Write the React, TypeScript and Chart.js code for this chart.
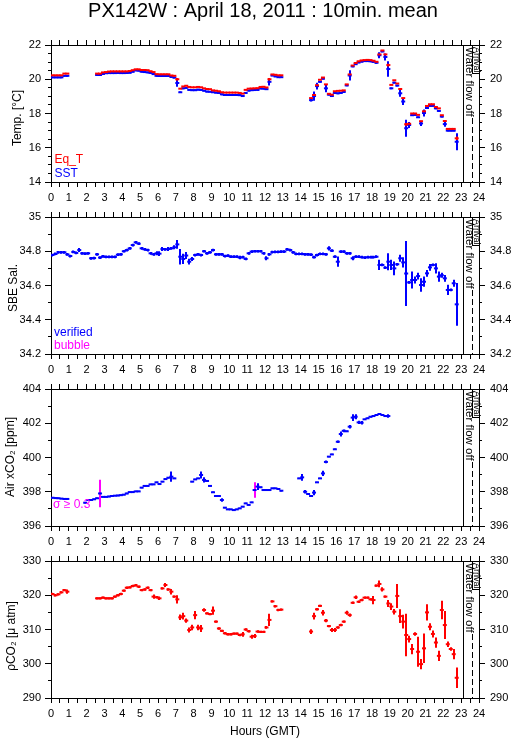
import React, { useEffect, useRef } from 'react';
import { Chart, registerables } from 'chart.js';

Chart.register(...registerables);

const FONT = '"Liberation Sans", Arial, Helvetica, sans-serif';
Chart.defaults.font.family = FONT;

// ---------------- DATA (10-minute means, one row = one hour, 6 values) ----------------
const X_TICK_LABELS = ['0','1','2','3','4','5','6','7','8','9','10','11','12','13','14','15','16','17','18','19','20','21','22','23','24'];
const TEMP_LABELS = ['14','16','18','20','22'];
const SAL_LABELS = ['34.2','34.4','34.6','34.8','35'];
const XCO2_LABELS = ['396','398','400','402','404'];
const PCO2_LABELS = ['290','300','310','320','330'];

const SST = [
  20.11,20.11,20.11,20.11,20.2,20.2,
  null,null,null,null,null,null,
  null,null,null,20.25,20.25,20.31,
  20.35,20.36,20.36,20.36,20.37,20.36,
  20.36,20.37,20.38,20.44,20.52,20.5,
  20.44,20.42,20.4,20.37,20.3,20.2,
  20.19,20.19,20.19,20.19,20.14,20.1,
  19.78,19.24,19.47,19.5,19.38,19.36,
  19.36,19.39,19.38,19.33,19.28,19.27,
  19.24,19.22,19.2,19.12,19.08,19.08,
  19.08,19.08,19.08,19.07,19.02,19.2,
  19.34,19.36,19.37,19.38,19.46,19.45,
  19.42,19.85,20.22,20.17,20.12,20.12,
  null,null,null,null,null,null,
  null,null,null,18.78,19.02,19.6,
  19.85,20.03,19.47,19.1,19.02,19.2,
  19.18,19.2,19.26,19.64,20.22,20.75,
  20.88,20.98,21.03,21.06,21.06,21.05,
  21.02,20.96,21.4,21.62,21.3,20.6,
  19.47,19.8,19.63,19.18,18.7,17.14,
  17.33,17.9,17.92,17.78,17.42,18.03,
  18.32,18.45,18.45,18.3,18.15,17.82,
  17.38,17.0,17.0,17.0,16.35,null,
];
const EQ_T = [
  20.23,20.23,20.23,20.23,20.33,20.33,
  null,null,null,null,null,null,
  null,null,null,20.33,20.33,20.4,
  20.42,20.45,20.46,20.46,20.46,20.46,
  20.46,20.46,20.48,20.53,20.58,20.58,
  20.54,20.54,20.53,20.47,20.42,20.3,
  20.29,20.29,20.29,20.29,20.22,20.2,
  20.0,19.45,19.58,19.62,19.55,19.53,
  19.53,19.55,19.53,19.47,19.43,19.42,
  19.35,19.33,19.3,19.24,19.22,19.22,
  19.22,19.22,19.22,19.2,19.16,19.38,
  19.45,19.46,19.47,19.48,19.55,19.56,
  19.52,20.0,20.28,20.26,20.23,20.23,
  null,null,null,null,null,null,
  null,null,null,18.9,19.08,19.65,
  19.97,20.1,19.7,19.15,19.1,19.3,
  19.32,19.33,19.35,19.7,20.28,20.8,
  20.95,21.05,21.1,21.12,21.13,21.12,
  21.08,21.02,21.45,21.68,21.45,20.83,
  19.67,19.94,19.75,19.43,18.9,17.37,
  17.4,18.0,18.0,17.92,17.55,18.13,
  18.44,18.54,18.54,18.38,18.3,17.9,
  17.56,17.1,17.1,17.1,16.55,null,
];
const SST_ERR_DEFAULT = 0.05;
const SST_ERR = [[42,0.22],[73,0.22],[87,0.08],[88,0.27],[89,0.2],[92,0.23],[100,0.3],[110,0.18],[112,0.2],[113,0.45],[117,0.2],[118,0.2],[119,0.5],[120,0.18],[124,0.15],[125,0.2],[132,0.15],[136,0.5]];
const EQ_T_ERR_DEFAULT = 0;
const EQ_T_ERR = [[42,0.08],[73,0.08],[113,0.08],[119,0.08],[136,0.1]];

const SAL = [
  34.778,34.784,34.794,34.794,34.794,34.782,
  34.772,34.796,34.79,34.807,34.788,34.786,
  34.788,34.759,34.76,34.782,34.763,34.77,
  34.767,34.767,34.767,34.767,34.78,34.782,
  34.8,34.807,34.817,34.836,34.852,34.844,
  34.817,34.811,34.807,34.788,34.782,34.788,
  34.786,34.813,34.811,34.813,34.817,34.823,
  34.84,34.768,34.755,34.775,34.739,34.755,
  34.778,34.782,34.778,34.8,34.788,34.794,
  34.807,34.782,34.782,34.782,34.772,34.774,
  34.768,34.768,34.768,34.763,34.765,34.755,
  34.788,34.798,34.8,34.8,34.8,34.788,
  34.759,34.782,34.795,34.796,34.796,34.798,
  34.798,34.811,34.807,34.794,34.784,34.784,
  34.784,34.782,34.782,34.78,34.765,34.778,
  34.784,34.784,34.782,34.817,34.803,34.768,
  34.739,34.798,34.798,34.788,34.788,34.759,
  34.768,34.768,34.765,34.763,34.765,34.765,
  34.765,34.768,34.72,34.72,34.704,34.739,
  34.72,34.70,34.724,34.759,34.735,34.67,
  34.618,34.632,34.632,34.655,34.603,34.622,
  34.671,34.706,34.72,34.70,34.652,34.66,
  34.642,34.574,34.574,34.613,34.49,null,
];
const SAL_ERR_DEFAULT = 0.008;
const SAL_ERR = [[9,0.012],[35,0.012],[36,0.014],[37,0.012],[39,0.012],[41,0.012],[42,0.025],[43,0.045],[44,0.03],[45,0.02],[46,0.017],[47,0.012],[63,0.01],[72,0.012],[93,0.012],[96,0.03],[101,0.012],[110,0.03],[113,0.05],[114,0.03],[115,0.04],[117,0.02],[118,0.03],[119,0.19],[121,0.05],[122,0.02],[123,0.02],[124,0.04],[125,0.03],[126,0.02],[127,0.02],[129,0.03],[130,0.03],[131,0.015],[132,0.02],[133,0.03],[135,0.02],[136,0.125]];

const XCO2 = [
  397.65,397.63,397.62,397.6,397.58,397.58,
  null,null,null,null,null,397.36,
  397.52,397.52,397.56,397.62,397.9,397.7,
  397.7,397.72,397.75,397.77,397.78,397.8,
  397.83,397.9,397.98,397.98,398.02,398.02,
  398.24,398.34,398.34,398.43,398.43,398.55,
  398.45,398.59,398.74,398.82,398.88,398.78,
  null,null,null,null,null,398.59,
  398.72,398.78,398.98,398.69,398.63,398.34,
  397.97,397.75,397.75,397.52,397.07,396.97,
  396.97,396.93,396.97,397.03,397.13,397.32,
  397.23,397.38,398.1,398.3,398.26,398.1,
  398.1,398.1,398.2,398.2,398.16,398.06,
  null,null,null,null,null,398.78,
  398.84,398.0,397.87,397.75,397.95,398.55,
  398.78,399.07,399.74,400.05,400.18,400.48,
  400.92,401.37,401.56,401.53,401.8,402.33,
  402.38,402.05,402.03,402.23,402.29,402.38,
  402.42,402.48,402.54,402.48,402.42,402.42,
];
const XCO2_ERR_DEFAULT = 0.04;
const XCO2_ERR = [[40,0.3],[50,0.2],[51,0.15],[57,0.1],[69,0.2],[84,0.2],[85,0.1],[88,0.15],[91,0.15],[92,0.08],[96,0.08],[97,0.15],[98,0.08],[100,0.1],[101,0.2],[102,0.15],[103,0.1],[104,0.1],[113,0.1]];
const BUBBLE_IDX = [16, 68];
const BUBBLE_VAL = [397.9, 398.1];
const BUBBLE_ERR = [0.8, 0.45];

const PCO2 = [
  320.37,319.98,320.27,320.85,321.5,321.05,
  null,null,null,null,null,null,
  null,null,null,319.1,319.1,319.3,
  319.1,319.1,319.1,319.6,320.0,320.37,
  321.34,322.2,322.3,322.7,322.9,322.5,
  321.5,321.7,322.2,321.5,319.6,319.4,
  319.1,322.0,323.0,321.7,321.05,319.6,
  318.8,313.55,313.9,312.6,309.85,310.6,
  314.2,310.6,310.3,315.7,314.7,314.5,
  315.5,312.3,310.3,309.6,308.9,308.6,
  308.6,308.8,308.8,308.4,308.6,310.0,
  309.5,307.9,308.1,309.4,309.3,309.3,
  310.6,312.8,318.2,316.8,315.7,315.8,
  null,null,null,null,null,null,
  null,null,null,309.4,313.9,315.9,
  316.9,314.9,312.6,311.0,309.85,309.85,
  310.6,311.3,312.3,314.9,314.2,317.8,
  319.4,318.1,318.6,319.3,319.3,318.8,
  318.6,322.8,323.3,321.7,319.6,317.6,
  316.7,315.2,319.8,313.9,312.3,308.4,
  307.2,304.3,308.7,303.5,299.9,304.5,
  315.0,310.8,308.7,306.2,302.3,315.7,
  311.3,305.7,304.3,302.8,295.9,null,
];
const PCO2_ERR_DEFAULT = 0.35;
const PCO2_ERR = [[5,0.6],[34,0.6],[36,0.5],[38,0.6],[40,0.8],[42,1.2],[43,0.8],[44,1.0],[45,0.6],[46,0.7],[47,0.8],[48,1.2],[49,0.8],[50,1.0],[51,0.5],[54,1.2],[64,0.7],[67,0.6],[68,0.6],[72,0.4],[73,1.8],[87,0.7],[88,1.0],[91,0.8],[92,0.5],[94,0.6],[95,0.6],[99,0.6],[100,0.5],[102,0.5],[108,1.2],[110,1.0],[111,0.6],[113,1.0],[114,1.0],[115,0.8],[116,3.5],[117,2.0],[118,2.0],[119,6.2],[120,1.0],[121,1.5],[122,0.5],[123,4.4],[124,1.5],[125,4.3],[126,2.4],[127,1.0],[128,1.0],[129,1.5],[130,1.5],[131,2.7],[132,4.1],[133,0.8],[134,0.5],[135,1.5],[136,3.0]];

const FLOW_OFF_START = 23.08;
const FLOW_OFF_END = 23.6;

// ---------------- LAYOUT ----------------
const PAGE_W = 515;
const PAGE_H = 739;
const LEFT_W = 51;
const RIGHT_W = 36;
const PLOT_H = 137;
const TICK_FONT = 11;
const RED = '#ff0000';
const BLUE = '#0000ff';
const MAGENTA = '#ff00ff';

type Txt = { text: string; x: number; y: number; color?: string; size?: number; rot?: number; align?: CanvasTextAlign; baseline?: CanvasTextBaseline };

function toPoints(values: (number | null)[], errs: number[][], def: number) {
  const m = new Map(errs.map((p) => [p[0], p[1]] as [number, number]));
  const pts: any[] = [];
  values.forEach((v, i) => {
    if (v == null) return;
    pts.push({ x: (i + 0.5) / 6, y: v, e: m.has(i) ? m.get(i) : def });
  });
  return pts;
}

function sparsePoints(idx: number[], vals: number[], errs: number[]) {
  return idx.map((i, k) => ({ x: (i + 0.5) / 6, y: vals[k], e: errs[k] }));
}

function ds(data: any[], color: string, radius = 2) {
  return {
    data,
    borderColor: color,
    backgroundColor: color,
    pointBorderColor: color,
    pointBackgroundColor: color,
    pointStyle: 'line',
    pointRadius: radius,
    pointHoverRadius: radius,
    pointBorderWidth: 2,
    showLine: false,
  };
}

const errorBars = {
  id: 'errorBars',
  afterDatasetDraw(chart: any, args: any) {
    const d = chart.data.datasets[args.index];
    const xs = chart.scales.x;
    const ys = chart.scales.y;
    const ctx = chart.ctx;
    ctx.save();
    ctx.strokeStyle = d.pointBorderColor;
    ctx.lineWidth = 2;
    d.data.forEach((p: any) => {
      if (!p.e) return;
      const x = Math.round(xs.getPixelForValue(p.x));
      const y1 = ys.getPixelForValue(p.y - p.e);
      const y2 = ys.getPixelForValue(p.y + p.e);
      ctx.beginPath();
      ctx.moveTo(x, y1);
      ctx.lineTo(x, y2);
      ctx.stroke();
    });
    ctx.restore();
  },
};

function makeDecor(texts: Txt[]) {
  return {
    id: 'decor',
    afterDraw(chart: any) {
      const ctx = chart.ctx;
      const xs = chart.scales.x;
      const { top, bottom } = chart.chartArea;
      const xa = Math.round(xs.getPixelForValue(FLOW_OFF_START)) + 0.5;
      const xb = Math.round(xs.getPixelForValue(FLOW_OFF_END)) + 0.5;
      const xr = Math.round(xs.getPixelForValue(24)) + 0.5;
      ctx.save();
      ctx.strokeStyle = '#000';
      ctx.lineWidth = 1;
      ctx.beginPath();
      ctx.moveTo(xa, top);
      ctx.lineTo(xa, bottom);
      ctx.stroke();
      ctx.setLineDash([6, 3]);
      ctx.beginPath();
      ctx.moveTo(xb, top + 73);
      ctx.lineTo(xb, bottom);
      ctx.stroke();
      ctx.setLineDash([]);
      // arrival box
      ctx.fillStyle = '#fff';
      ctx.fillRect(xb, top + 0.5, xr - xb, 28);
      ctx.strokeRect(xb, top + 0.5, xr - xb, 28);
      ctx.fillStyle = '#000';
      ctx.save();
      ctx.translate(xb + 1, top + 2);
      ctx.rotate(Math.PI / 2);
      ctx.font = `9px ${FONT}`;
      ctx.textBaseline = 'alphabetic';
      ctx.textAlign = 'left';
      ctx.fillText('Arrival', 0, 0);
      ctx.restore();
      // water flow off
      ctx.save();
      ctx.translate(xa + 2, top + 2);
      ctx.rotate(Math.PI / 2);
      ctx.font = `11.5px ${FONT}`;
      ctx.textBaseline = 'alphabetic';
      ctx.textAlign = 'left';
      ctx.fillText('Water flow off', 0, 0);
      ctx.restore();

      texts.forEach((t) => {
        ctx.save();
        ctx.fillStyle = t.color || '#000';
        ctx.font = `${t.size || 12}px ${FONT}`;
        ctx.textAlign = t.align || 'left';
        ctx.textBaseline = t.baseline || 'alphabetic';
        ctx.translate(t.x, t.y);
        if (t.rot) ctx.rotate(t.rot);
        ctx.fillText(t.text, 0, 0);
        ctx.restore();
      });
      ctx.restore();
    },
  };
}

type Panel = {
  key: string;
  canvasTop: number;
  topH: number;
  canvasH: number;
  labels: string[];
  minor: number;
  datasets: () => any[];
  texts: Txt[];
};

function yAxis(p: Panel, position: 'left' | 'right', major: boolean) {
  const min = Number(p.labels[0]);
  const max = Number(p.labels[p.labels.length - 1]);
  const step = major ? Number(p.labels[1]) - Number(p.labels[0]) : p.minor;
  const w = major ? (position === 'left' ? LEFT_W : RIGHT_W) : 0;
  return {
    type: 'linear',
    position,
    min,
    max,
    weight: major ? 1 : 0,
    ticks: {
      stepSize: step,
      autoSkip: false,
      padding: position === 'left' ? 4 : 5,
      color: '#000',
      font: { family: FONT, size: TICK_FONT },
      callback: (v: any) => {
        if (!major) return '';
        const n = Number(v);
        const lab = p.labels.find((l) => Math.abs(Number(l) - n) < 1e-6);
        return lab === undefined ? '' : lab;
      },
    },
    grid: { drawOnChartArea: false, drawTicks: true, tickLength: major ? 6 : 3, color: '#000', tickColor: '#000', tickWidth: 1 },
    border: { display: true, color: '#000', width: 1 },
    afterFit: (s: any) => {
      s.width = w;
    },
  };
}

function makeOptions(p: Panel) {
  const bottomH = p.canvasH - p.topH - PLOT_H;
  return {
    responsive: false,
    maintainAspectRatio: false,
    animation: false,
    events: [],
    layout: { padding: 0 },
    plugins: { legend: { display: false }, tooltip: { enabled: false }, title: { display: false } },
    scales: {
      x: {
        type: 'linear',
        position: 'bottom',
        min: 0,
        max: 24,
        ticks: {
          stepSize: 0.5,
          autoSkip: false,
          maxRotation: 0,
          minRotation: 0,
          padding: 4,
          color: '#000',
          font: { family: FONT, size: TICK_FONT },
          callback: (v: any) => {
            const n = Number(v);
            return Math.abs(n - Math.round(n)) < 1e-6 ? X_TICK_LABELS[Math.round(n)] : '';
          },
        },
        grid: { drawOnChartArea: false, drawTicks: true, tickLength: 5, color: '#000', tickColor: '#000' },
        border: { display: true, color: '#000', width: 1 },
        afterFit: (s: any) => {
          s.height = bottomH;
        },
      },
      xTop: {
        type: 'linear',
        position: 'top',
        min: 0,
        max: 24,
        ticks: { stepSize: 0.5, autoSkip: false, maxRotation: 0, minRotation: 0, callback: () => '' },
        grid: { drawOnChartArea: false, drawTicks: true, tickLength: 5, color: '#000', tickColor: '#000' },
        border: { display: true, color: '#000', width: 1 },
        afterFit: (s: any) => {
          s.height = p.topH;
        },
      },
      y: yAxis(p, 'left', true),
      yMinor: yAxis(p, 'left', false),
      yR: yAxis(p, 'right', true),
      yRMinor: yAxis(p, 'right', false),
    },
  };
}

const ROT = -Math.PI / 2;

const PANELS: Panel[] = [
  {
    key: 'temp',
    canvasTop: 0,
    topH: 45,
    canvasH: 217,
    labels: TEMP_LABELS,
    minor: 0.5,
    datasets: () => [
      ds(toPoints(EQ_T, EQ_T_ERR, EQ_T_ERR_DEFAULT), RED),
      ds(toPoints(SST, SST_ERR, SST_ERR_DEFAULT), BLUE),
    ],
    texts: [
      { text: 'PX142W : April 18, 2011 : 10min. mean', x: 263, y: 17, size: 20, align: 'center' },
      { text: 'Temp. [°C]', x: 18, y: 118, rot: ROT, align: 'center', baseline: 'middle' },
      { text: 'Eq_T', x: 54.5, y: 163, color: RED },
      { text: 'SST', x: 54.5, y: 176.5, color: BLUE },
    ],
  },
  {
    key: 'sal',
    canvasTop: 197,
    topH: 20,
    canvasH: 192,
    labels: SAL_LABELS,
    minor: 0.1,
    datasets: () => [ds(toPoints(SAL, SAL_ERR, SAL_ERR_DEFAULT), BLUE)],
    texts: [
      { text: 'SBE Sal.', x: 14, y: 288 - 197, rot: ROT, align: 'center', baseline: 'middle' },
      { text: 'verified', x: 54, y: 336 - 197, color: BLUE },
      { text: 'bubble', x: 54, y: 348.5 - 197, color: MAGENTA },
    ],
  },
  {
    key: 'xco2',
    canvasTop: 369,
    topH: 20,
    canvasH: 192,
    labels: XCO2_LABELS,
    minor: 1,
    datasets: () => [
      ds(toPoints(XCO2, XCO2_ERR, XCO2_ERR_DEFAULT), BLUE),
      ds(sparsePoints(BUBBLE_IDX, BUBBLE_VAL, BUBBLE_ERR), MAGENTA, 0),
    ],
    texts: [
      { text: 'Air xCO₂ [ppm]', x: 11, y: 457 - 369, rot: ROT, align: 'center', baseline: 'middle' },
      { text: 'σ ≥ 0.3', x: 53, y: 507.5 - 369, color: MAGENTA },
    ],
  },
  {
    key: 'pco2',
    canvasTop: 541,
    topH: 20,
    canvasH: PAGE_H - 541,
    labels: PCO2_LABELS,
    minor: 5,
    datasets: () => [ds(toPoints(PCO2, PCO2_ERR, PCO2_ERR_DEFAULT), RED)],
    texts: [
      { text: 'ρCO₂ [μ atm]', x: 12, y: 636 - 541, rot: ROT, align: 'center', baseline: 'middle' },
      { text: 'Hours (GMT)', x: 265, y: 735 - 541, align: 'center' },
    ],
  },
];

function PanelChart({ p }: { p: Panel }) {
  const ref = useRef<HTMLCanvasElement | null>(null);
  useEffect(() => {
    if (!ref.current) return;
    const chart = new Chart(ref.current, {
      type: 'scatter',
      data: { datasets: p.datasets() },
      options: makeOptions(p) as any,
      plugins: [errorBars, makeDecor(p.texts)],
    } as any);
    return () => chart.destroy();
  }, [p]);
  return (
    <canvas
      ref={ref}
      width={PAGE_W}
      height={p.canvasH}
      style={{ position: 'absolute', left: 0, top: p.canvasTop, width: PAGE_W, height: p.canvasH }}
    />
  );
}

export default function App() {
  return (
    <div style={{ position: 'absolute', left: 0, top: 0, width: PAGE_W, height: PAGE_H, background: '#fff', overflow: 'hidden' }}>
      {PANELS.map((p) => (
        <PanelChart key={p.key} p={p} />
      ))}
    </div>
  );
}
